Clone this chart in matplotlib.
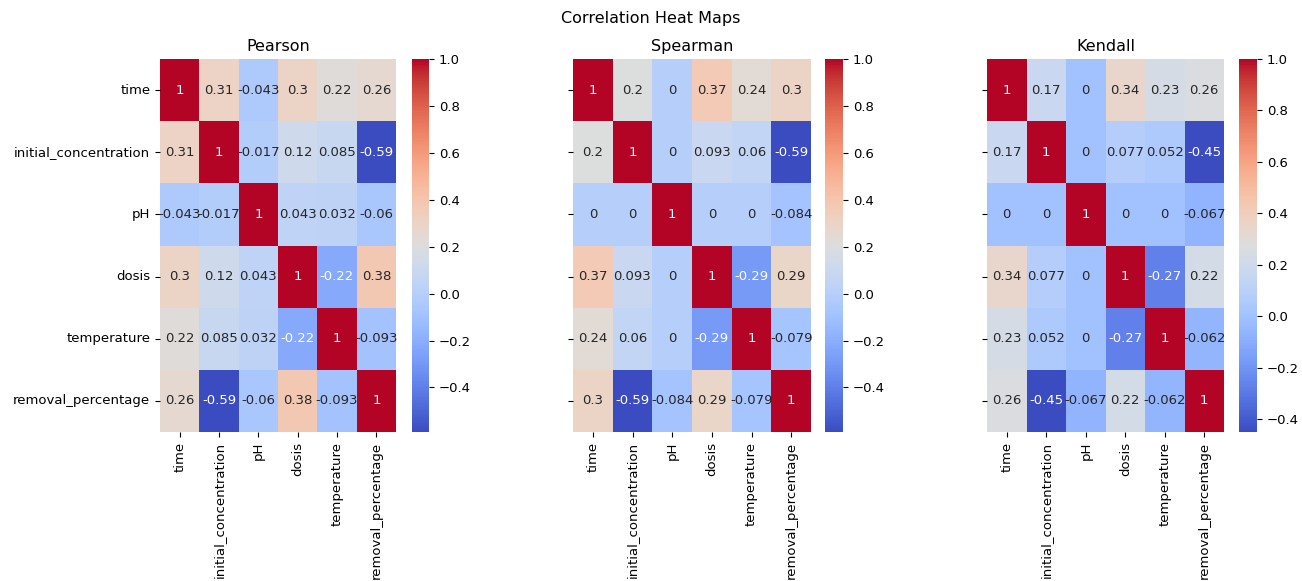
import numpy as np
import matplotlib
matplotlib.use("Agg")
import matplotlib.pyplot as plt
import seaborn as sns

# Variables in the dataset
columns = ["time", "initial_concentration", "pH", "dosis", "temperature",
           "removal_percentage"]

# Correlation matrices for each method
pearson = [
    [1, 0.31, -0.043, 0.3, 0.22, 0.26],
    [0.31, 1, -0.017, 0.12, 0.085, -0.59],
    [-0.043, -0.017, 1, 0.043, 0.032, -0.06],
    [0.3, 0.12, 0.043, 1, -0.22, 0.38],
    [0.22, 0.085, 0.032, -0.22, 1, -0.093],
    [0.26, -0.59, -0.06, 0.38, -0.093, 1],
]
spearman = [
    [1, 0.2, 0, 0.37, 0.24, 0.3],
    [0.2, 1, 0, 0.093, 0.06, -0.59],
    [0, 0, 1, 0, 0, -0.084],
    [0.37, 0.093, 0, 1, -0.29, 0.29],
    [0.24, 0.06, 0, -0.29, 1, -0.079],
    [0.3, -0.59, -0.084, 0.29, -0.079, 1],
]
kendall = [
    [1, 0.17, 0, 0.34, 0.23, 0.26],
    [0.17, 1, 0, 0.077, 0.052, -0.45],
    [0, 0, 1, 0, 0, -0.067],
    [0.34, 0.077, 0, 1, -0.27, 0.22],
    [0.23, 0.052, 0, -0.27, 1, -0.062],
    [0.26, -0.45, -0.067, 0.22, -0.062, 1],
]
titles = ["Pearson", "Spearman", "Kendall"]
matrices = [pearson, spearman, kendall]

plt.rcParams["font.size"] = 9.5
plt.rcParams["xtick.labelsize"] = 9.5
plt.rcParams["ytick.labelsize"] = 9.5

W, H = 1302, 581
fig = plt.figure(figsize=(W / 100, H / 100), dpi=100)

# pixel boxes: heatmap (left, right) and colorbar (left, right); shared top/bottom
boxes = [((160, 396), (412, 429)),
         ((573, 811), (825, 843)),
         ((987, 1224), (1239, 1257))]
top, bottom = 59, 432

for i, (title, mat) in enumerate(zip(titles, matrices)):
    (hl, hr), (cl, cr) = boxes[i]
    ax = fig.add_axes([hl / W, 1 - bottom / H, (hr - hl) / W, (bottom - top) / H])
    cax = fig.add_axes([cl / W, 1 - bottom / H, (cr - cl) / W, (bottom - top) / H])
    sns.heatmap(np.array(mat), annot=True, cmap="coolwarm", ax=ax, cbar_ax=cax,
                xticklabels=columns, yticklabels=columns if i == 0 else False,
                annot_kws={"size": 9.5})
    if i > 0:
        ax.set_yticks(np.arange(len(columns)) + 0.5)
        ax.set_yticklabels([])
    ax.set_title(title, fontsize=11.5)
    ax.tick_params(axis="x", labelrotation=90)
    ax.tick_params(axis="y", labelrotation=0)

fig.suptitle("Correlation Heat Maps", fontsize=11.5, y=1 - 19 / H, va="center")

fig.savefig("out.png", dpi=100)
